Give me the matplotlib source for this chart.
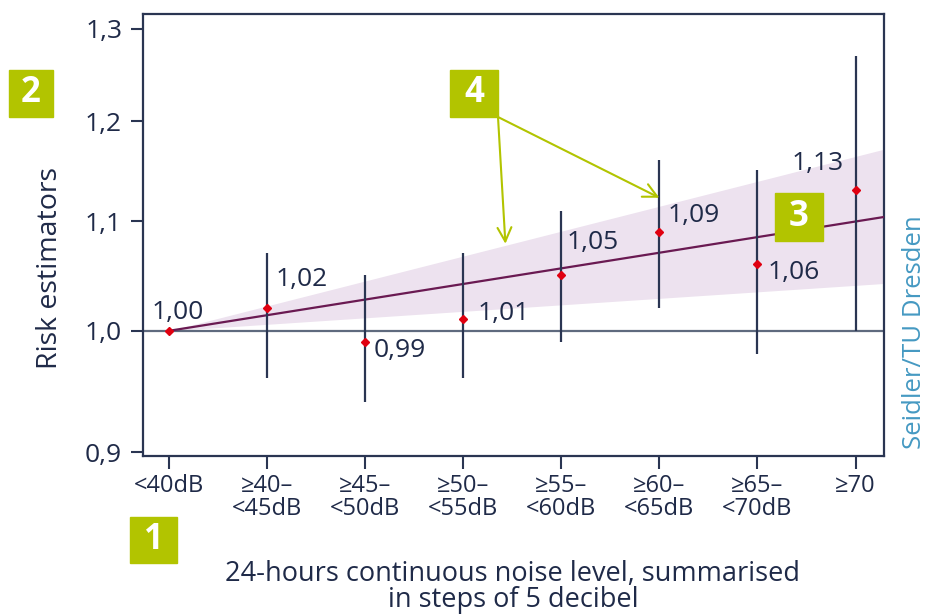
import matplotlib
matplotlib.use("Agg")
import matplotlib.pyplot as plt
from matplotlib.patches import Rectangle
import numpy as np

plt.rcParams['font.family'] = ['Open Sans', 'DejaVu Sans']

# ---- data ----
categories = ["<40dB", "≥40–\n<45dB", "≥45–\n<50dB", "≥50–\n<55dB",
              "≥55–\n<60dB", "≥60–\n<65dB", "≥65–\n<70dB", "≥70"]
estimates = [1.00, 1.02, 0.99, 1.01, 1.05, 1.09, 1.06, 1.13]
ci_low = [np.nan, 0.96, 0.94, 0.96, 0.99, 1.02, 0.98, 1.00]
ci_high = [np.nan, 1.07, 1.05, 1.07, 1.11, 1.16, 1.15, 1.27]
value_labels = ["1,00", "1,02", "0,99", "1,01", "1,05", "1,09", "1,06", "1,13"]
trend_x = [0, 7.29]
trend_y = [1.00, 1.104]
band_low = [1.00, 1.042]
band_high = [1.00, 1.171]
yticks = [0.9, 1.0, 1.1, 1.2, 1.3]
ytick_labels = ["0,9", "1,0", "1,1", "1,2", "1,3"]

NAVY = "#1f2a48"
GREEN = "#b2c400"
W, H = 929, 616

fig = plt.figure(figsize=(9.29, 6.16), dpi=100)
ax = fig.add_axes([143 / W, 1 - 456 / H, (884 - 143) / W, (456 - 14) / H])
ax.set_yscale('log')
ax.set_ylim(0.8969, 1.317)
ax.set_xlim(-0.265, 7.29)

x = np.arange(len(categories))

# confidence band and trend
ax.fill_between(trend_x, band_low, band_high, color="#ede2ef", lw=0, zorder=1)
ax.axhline(1.0, color="#5f6a7e", lw=1.6, zorder=2)
ax.plot(trend_x, trend_y, color="#6a1a52", lw=1.6, zorder=3)

# error bars
ax.vlines(x, ci_low, ci_high, color="#2a3552", lw=1.6, zorder=4)
ax.plot(x, estimates, linestyle="none", marker="D", markersize=4.5,
        color="#e00010", zorder=5)

# value labels: (dx, dy) in pixels, ha
offsets = [(9, 18, "center"), (8, 29, "left"), (8, -8, "left"), (14, 6, "left"),
           (5, 32, "left"), (8, 16, "left"), (10, -9, "left"), (-12, 27, "right")]
for xi, yi, lab, (dx, dy, ha) in zip(x, estimates, value_labels, offsets):
    ax.annotate(lab, (xi, yi), xytext=(dx, dy), textcoords="offset pixels",
                ha=ha, va="center", fontsize=19, color=NAVY, zorder=6)

# axes styling
ax.set_xticks(x)
ax.set_xticklabels(categories, fontsize=17, color=NAVY, linespacing=0.92)
ax.set_yticks(yticks)
ax.set_yticklabels(ytick_labels, fontsize=19, color=NAVY)
ax.yaxis.set_minor_locator(matplotlib.ticker.NullLocator())
ax.tick_params(axis='both', direction='out', length=9, width=1.5, color="#2a3552")
ax.tick_params(axis='y', pad=6)
ax.tick_params(axis='x', pad=4)
for s in ax.spines.values():
    s.set_color("#2a3552")
    s.set_linewidth(1.6)

# axis labels
fig.text(50 / W, 1 - 268 / H, "Risk estimators", rotation=90, ha="center",
         va="center", fontsize=20.5, color=NAVY)
fig.text(513 / W, 1 - 587 / H,
         "24-hours continuous noise level, summarised\nin steps of 5 decibel",
         ha="center", va="center", fontsize=19.5, color=NAVY, linespacing=0.92)
fig.text(927 / W, 1 - 332 / H, "Seidler/TU Dresden", rotation=90, ha="right",
         va="center", fontsize=18.5, color="#4599c2")

# green number boxes (pixel positions: left, top, right, bottom)
boxes = [("1", 130, 517, 177, 563), ("2", 9, 70, 53, 117),
         ("3", 775, 193, 823, 241), ("4", 450, 70, 498, 117)]
for num, l, t, r, b in boxes:
    fig.patches.append(Rectangle((l / W, 1 - b / H), (r - l) / W, (b - t) / H,
                                 transform=fig.transFigure, color=GREEN, zorder=10))
    fig.text((l + r) / 2 / W, 1 - (t + b) / 2 / H, num, ha="center", va="center",
             fontsize=25, fontweight="bold", color="white", zorder=11)

# arrows from box 4
for tx, ty in [(3.43, 1.0786), (5.0, 1.1226)]:
    ax.annotate("", xy=(tx, ty), xycoords="data",
                xytext=(498, H - 117), textcoords="figure pixels",
                arrowprops=dict(arrowstyle="->", color=GREEN, lw=1.5,
                                mutation_scale=25, shrinkA=0, shrinkB=0),
                annotation_clip=False, zorder=9)

fig.savefig("out.png", dpi=100)
